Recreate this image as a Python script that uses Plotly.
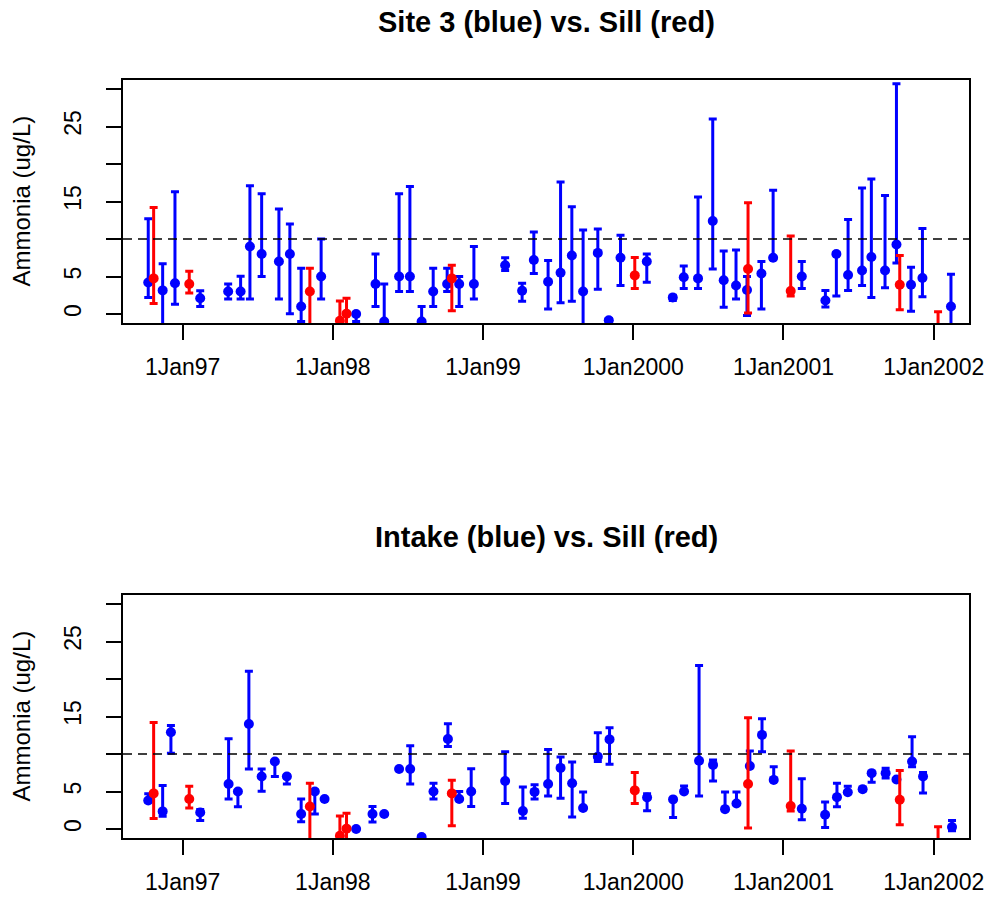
import plotly.graph_objects as go

# ---------------- data (decimal years) ----------------
site3_t = [1996.771, 1996.867, 1996.949, 1997.117, 1997.303, 1997.386, 1997.448, 1997.526,
           1997.641, 1997.714, 1997.789, 1997.922, 1998.155, 1998.284, 1998.342, 1998.441,
           1998.513, 1998.591, 1998.668, 1998.761, 1998.841, 1998.939, 1999.147, 1999.260,
           1999.338, 1999.433, 1999.516, 1999.591, 1999.666, 1999.764, 1999.837, 1999.915,
           2000.090, 2000.263, 2000.336, 2000.431, 2000.529, 2000.602, 2000.684, 2000.757,
           2000.853, 2000.931, 2001.122, 2001.279, 2001.352, 2001.430, 2001.523, 2001.585,
           2001.676, 2001.752, 2001.849, 2001.925, 2002.115]
site3_val = [4.2, 3.15, 4.1, 2.1, 3.0, 3.0, 9.0, 8.0, 7.0, 8.0, 1.0, 5.0, 0.0, 4.0, -1.0, 5.0,
             5.0, -1.0, 3.0, 4.0, 4.0, 4.0, 6.5, 3.1, 7.2, 4.3, 5.5, 7.8, 3.0, 8.15, -0.84, 7.5,
             7.0, 2.2, 4.9, 4.75, 12.4, 4.5, 3.8, 3.2, 5.4, 7.5, 5.0, 1.8, 8.0, 5.2, 5.8, 7.6,
             5.8, 9.27, 3.9, 4.8, 1.0]
site3_lo = [2.2, -3.0, 1.3, 1.0, 2.0, 2.0, 2.0, 5.0, 2.0, 0.05, -1.0, 2.0, -1.0, 1.0, -3.0, 3.0,
            3.0, -3.0, 1.0, 3.0, 1.0, 2.0, 5.8, 1.7, 5.4, 0.67, 1.5, 1.7, -3.0, 3.3, -1.0, 3.8,
            4.25, 1.8, 3.4, 3.4, 6.0, 0.9, 2.0, -0.2, 0.67, 7.3, 3.4, 0.93, 2.4, 3.15, 3.8, 2.2,
            3.5, 6.8, 0.36, 2.3, -3.0]
site3_hi = [12.7, 6.7, 16.3, 3.1, 4.0, 5.05, 17.1, 16.05, 14.0, 12.0, 6.1, 10.0, 0.2, 8.0, 4.0, 16.05,
            17.0, 1.0, 6.1, 6.1, 5.0, 9.0, 7.5, 4.1, 10.95, 7.15, 17.6, 14.3, 11.2, 11.35, -0.6, 10.5,
            8.0, 2.5, 6.4, 15.6, 26.0, 8.4, 8.55, 5.0, 7.0, 16.5, 7.0, 3.15, 8.2, 12.6, 16.8, 18.0,
            15.8, 30.7, 6.25, 11.4, 5.3]

intake_t = [1996.771, 1996.867, 1996.922, 1997.117, 1997.306, 1997.368, 1997.441, 1997.526,
            1997.614, 1997.694, 1997.789, 1997.880, 1997.945, 1998.155, 1998.264, 1998.342,
            1998.441, 1998.515, 1998.591, 1998.670, 1998.766, 1998.841, 1998.921, 1999.147,
            1999.265, 1999.343, 1999.433, 1999.516, 1999.593, 1999.666, 1999.764, 1999.842,
            2000.092, 2000.265, 2000.338, 2000.438, 2000.531, 2000.611, 2000.687, 2000.776,
            2000.857, 2000.935, 2001.122, 2001.277, 2001.356, 2001.428, 2001.527, 2001.587,
            2001.680, 2001.752, 2001.856, 2001.929, 2002.122]
intake_val = [3.8, 2.35, 12.9, 2.2, 6.0, 5.0, 14.0, 7.0, 9.0, 7.0, 2.0, 5.0, 4.0, 0.0, 2.0, 2.0,
              8.0, 8.0, -1.06, 5.0, 12.0, 4.0, 5.0, 6.4, 2.4, 4.95, 6.0, 8.15, 6.1, 2.8, 9.65, 11.95,
              4.2, 3.95, 5.0, 9.1, 8.55, 2.65, 3.4, 8.4, 12.55, 6.55, 2.7, 1.9, 4.25, 4.9, 5.3, 7.45,
              7.45, 6.6, 9.0, 7.0, 0.27]
intake_lo = [3.6, 1.7, 10.1, 1.15, 4.0, 2.97, 8.0, 5.05, 7.0, 6.0, 0.97, 2.0, 4.0, 0.0, 0.93, 2.0,
             8.0, 6.0, -1.2, 4.0, 11.0, 4.0, 3.0, 3.4, 1.45, 4.0, 4.4, 4.1, 1.6, 2.8, 9.0, 8.65,
             2.45, 1.55, 5.0, 4.4, 6.4, 2.65, 3.4, 8.3, 10.3, 6.55, 1.24, 0.2, 2.97, 4.9, 5.1, 6.25,
             6.8, 6.6, 8.3, 4.8, -0.23]
intake_hi = [4.7, 5.8, 13.8, 2.6, 12.05, 5.1, 21.05, 8.0, 9.1, 7.2, 4.0, 5.2, 4.0, 0.0, 3.0, 2.0,
             8.0, 11.1, -0.9, 6.1, 14.05, 5.0, 8.05, 10.3, 5.6, 5.9, 10.6, 9.6, 8.95, 4.95, 12.85, 13.5,
             4.7, 3.95, 5.75, 21.8, 9.2, 4.95, 4.95, 10.4, 14.7, 8.3, 6.7, 3.6, 6.1, 5.7, 5.6, 7.45,
             8.1, 6.6, 12.3, 7.55, 1.15]

sill_t = [1996.807, 1997.044, 1997.847, 1998.047, 1998.091, 1998.792, 2000.010, 2000.764,
          2001.048, 2001.774, 2002.029]
sill_val = [4.75, 4.0, 3.0, -0.9, 0.05, 4.75, 5.15, 6.0, 3.06, 3.9, -2.0]
sill_lo = [1.4, 2.8, -3.0, -3.0, -3.0, 0.45, 3.4, 0.15, 2.4, 0.58, -3.0]
sill_hi = [14.2, 5.7, 6.1, 1.73, 2.1, 6.5, 7.55, 14.85, 10.4, 7.8, 0.3]

x_tick_vals = [1997, 1998, 1999, 2000, 2001, 2002]
x_tick_text = ["1Jan97", "1Jan98", "1Jan99", "1Jan2000", "1Jan2001", "1Jan2002"]
y_tick_vals = [0, 5, 10, 15, 20, 25, 30]
y_tick_text = ["0", "5", "", "15", "", "25", ""]
threshold = 10
titles = ["Site 3 (blue) vs. Sill (red)", "Intake (blue) vs. Sill (red)"]
y_label = "Ammonia (ug/L)"

BLUE = "#0000FF"
RED = "#FF0000"
FONT = "Liberation Sans, Arial, sans-serif"


def err_trace(t, v, lo, hi, color, xa, ya):
    return go.Scatter(
        x=t, y=v, mode="markers", xaxis=xa, yaxis=ya,
        marker=dict(color=color, size=10, line=dict(width=0)),
        error_y=dict(type="data", symmetric=False,
                     array=[h - y for h, y in zip(hi, v)],
                     arrayminus=[y - l for y, l in zip(v, lo)],
                     color=color, thickness=3, width=4),
        showlegend=False, hoverinfo="x+y",
    )


fig = go.Figure()
fig.add_trace(err_trace(site3_t, site3_val, site3_lo, site3_hi, BLUE, "x", "y"))
fig.add_trace(err_trace(sill_t, sill_val, sill_lo, sill_hi, RED, "x", "y"))
fig.add_trace(err_trace(intake_t, intake_val, intake_lo, intake_hi, BLUE, "x2", "y2"))
fig.add_trace(err_trace(sill_t, sill_val, sill_lo, sill_hi, RED, "x2", "y2"))

# The page body adds an 8px offset; all pixel positions below are in
# reference-image coordinates and shifted by OFF.
OFF = 8
W, H = 992 - OFF, 897 - OFF
left_px, right_px = 123, 969
p1_top_px, p1_bot_px = 80, 323
p2_top_px, p2_bot_px = 595, 838

L = left_px - OFF
R = W - (right_px - OFF)
T = p1_top_px - OFF
B = H - (p2_bot_px - OFF)
plot_h = H - T - B


def py(px):
    """reference pixel y -> paper fraction"""
    return (p2_bot_px - px) / plot_h


def px_x(px):
    return (px - left_px) / (right_px - left_px)


xcommon = dict(range=[1996.603, 2002.235], tickmode="array", tickvals=x_tick_vals,
               ticktext=x_tick_text, ticks="outside", ticklen=15, tickwidth=1.8,
               tickcolor="black", showline=True, linecolor="black", linewidth=2,
               mirror=True, showgrid=False, zeroline=False, automargin=False,
               ticklabelstandoff=7,
               tickfont=dict(family=FONT, size=23, color="black"))
ycommon = dict(range=[-1.2, 31.2], tickmode="array", tickvals=y_tick_vals,
               ticktext=y_tick_text, ticks="outside", ticklen=15, tickwidth=1.8,
               tickcolor="black", showline=True, linecolor="black", linewidth=2,
               mirror=True, showgrid=False, zeroline=False, tickangle=-90,
               automargin=False, ticklabelstandoff=16,
               tickfont=dict(family=FONT, size=23, color="black"))

fig.update_layout(
    width=W, height=H,
    margin=dict(l=L, r=R, t=T, b=B),
    paper_bgcolor="white", plot_bgcolor="white",
    xaxis=dict(domain=[0, 1], anchor="y", **xcommon),
    yaxis=dict(domain=[py(p1_bot_px), 1], anchor="x", **ycommon),
    xaxis2=dict(domain=[0, 1], anchor="y2", **xcommon),
    yaxis2=dict(domain=[0, py(p2_top_px)], anchor="x2", **ycommon),
)

for ya, xa in [("y", "x"), ("y2", "x2")]:
    fig.add_shape(type="line", xref=f"{xa} domain", yref=ya, x0=0, x1=1,
                  y0=threshold, y1=threshold,
                  line=dict(color="black", width=1.5, dash="9px,6px"))

title_y_px = [22, 537]
for txt, ypx in zip(titles, title_y_px):
    fig.add_annotation(text=f"<b>{txt}</b>", xref="paper", yref="paper",
                       x=0.5, y=py(ypx), xanchor="center", yanchor="middle",
                       showarrow=False, font=dict(family=FONT, size=29, color="black"))

for ypx in [201.5, 716.5]:
    fig.add_annotation(text=y_label, xref="paper", yref="paper",
                       x=px_x(21), y=py(ypx), xanchor="center", yanchor="middle",
                       textangle=-90, showarrow=False,
                       font=dict(family=FONT, size=24, color="black"))

fig.write_html("out.html")
